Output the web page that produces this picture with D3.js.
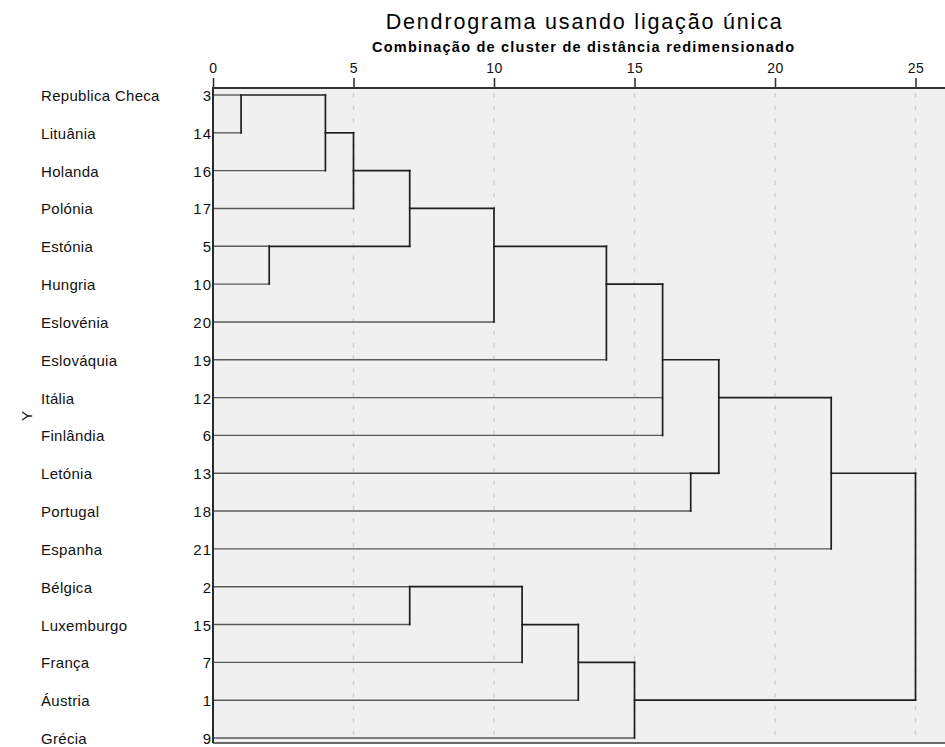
<!DOCTYPE html>
<html>
<head>
<meta charset="utf-8">
<script src="https://cdn.jsdelivr.net/npm/d3@7"></script>
<style>
  html, body { margin: 0; padding: 0; background: #ffffff; }
  svg { display: block; font-family: "Liberation Sans", Arial, sans-serif; }
</style>
</head>
<body>
<svg id="chart" width="945" height="747"></svg>
<script>
// ---- data ----
const countries = ["Republica Checa","Lituânia","Holanda","Polónia","Estónia","Hungria","Eslovénia","Eslováquia","Itália","Finlândia","Letónia","Portugal","Espanha","Bélgica","Luxemburgo","França","Áustria","Grécia"];
const caseNumbers = [3,14,16,17,5,10,20,19,12,6,13,18,21,2,15,7,1,9];
// merges: children are leaf row indices (numbers) or earlier merge ids ("m0", ...)
const mergeChildren = [
  [0, 1],            // m0
  ["m0", 2],         // m1
  ["m1", 3],         // m2
  [4, 5],            // m3
  ["m2", "m3"],      // m4
  ["m4", 6],         // m5
  ["m5", 7],         // m6
  ["m6", 8, 9],      // m7
  [10, 11],          // m8
  ["m7", "m8"],      // m9
  ["m9", 12],        // m10
  [13, 14],          // m11
  ["m11", 15],       // m12
  ["m12", 16],       // m13
  ["m13", 17],       // m14
  ["m10", "m14"]     // m15
];
const mergeHeights = [1, 4, 5, 2, 7, 10, 14, 16, 17, 18, 22, 7, 11, 13, 15, 25];
const tickValues = [0, 5, 10, 15, 20, 25];
const titleText = "Dendrograma usando ligação única";
const subtitleText = "Combinação de cluster de distância redimensionado";
const yAxisTitle = "Y";

// ---- layout ----
const svg = d3.select("#chart");
const plotLeft = 213, plotRight = 950, plotTop = 88, plotBottom = 743;
const x = d3.scaleLinear().domain([0, 25]).range([213, 915.5]);
const y = d3.scaleLinear().domain([0, countries.length - 1]).range([95, 738]);

// plot background
svg.append("rect")
  .attr("x", plotLeft).attr("y", plotTop)
  .attr("width", plotRight - plotLeft).attr("height", plotBottom - plotTop)
  .attr("fill", "#f0f0f0");

// dashed gridlines
svg.append("g").selectAll("line")
  .data(tickValues.filter(d => d > 0))
  .join("line")
  .attr("x1", d => x(d)).attr("x2", d => x(d))
  .attr("y1", plotTop + 5).attr("y2", plotBottom)
  .attr("stroke", "#cfcfcf").attr("stroke-width", 1.5)
  .attr("stroke-dasharray", "4.5,8");

// compute node positions (SPSS style: row = floor of midpoint of extreme children)
const nodes = {};
caseNumbers.forEach((c, i) => { nodes[i] = { row: i, h: 0, leaf: true }; });
const links = [];
mergeChildren.forEach((ch, k) => {
  const kids = ch.map(c => nodes[c]);
  const rows = kids.map(n => n.row);
  const lo = d3.min(rows), hi = d3.max(rows);
  const h = mergeHeights[k];
  nodes["m" + k] = { row: Math.floor((lo + hi) / 2), h: h, leaf: false };
  kids.forEach(n => links.push({ x1: n.h, x2: h, r1: n.row, r2: n.row, leaf: n.leaf }));
  links.push({ x1: h, x2: h, r1: lo, r2: hi, leaf: false });
});

const linkG = svg.append("g").attr("fill", "none");
linkG.selectAll("line")
  .data(links)
  .join("line")
  .attr("x1", d => x(d.x1)).attr("x2", d => x(d.x2))
  .attr("y1", d => y(d.r1)).attr("y2", d => y(d.r2))
  .attr("stroke", d => d.leaf ? "#5a5a5a" : "#1e1e1e")
  .attr("stroke-width", d => d.leaf ? 1.4 : 1.7)
  .attr("stroke-linecap", "square");

// borders
svg.append("line").attr("x1", plotLeft).attr("x2", plotLeft).attr("y1", plotTop).attr("y2", plotBottom)
  .attr("stroke", "#2a2a2a").attr("stroke-width", 2);
svg.append("line").attr("x1", plotLeft).attr("x2", plotRight).attr("y1", plotBottom).attr("y2", plotBottom)
  .attr("stroke", "#3a3a3a").attr("stroke-width", 1.5);
svg.append("line").attr("x1", plotLeft - 1).attr("x2", plotRight).attr("y1", plotTop).attr("y2", plotTop)
  .attr("stroke", "#333").attr("stroke-width", 1.8);

// top axis
const axis = d3.axisTop(x).tickValues(tickValues).tickSize(10).tickPadding(5).tickFormat(d3.format("d"));
const axG = svg.append("g").attr("transform", `translate(0,${plotTop})`).call(axis);
axG.select(".domain").remove();
axG.selectAll(".tick line").attr("stroke", "#333").attr("stroke-width", 1.6);
axG.selectAll(".tick text").attr("fill", "#111").style("font-size", "14px")
  .style("font-family", "'Liberation Sans', Arial, sans-serif").style("letter-spacing", "0.5px");

// row labels
svg.append("g").selectAll("text")
  .data(countries)
  .join("text")
  .attr("x", 41).attr("y", (d, i) => y(i) + 6)
  .attr("fill", "#111").style("font-size", "15px").style("letter-spacing", "0.3px")
  .text(d => d);
svg.append("g").selectAll("text")
  .data(caseNumbers)
  .join("text")
  .attr("x", 212).attr("y", (d, i) => y(i) + 6)
  .attr("text-anchor", "end")
  .attr("fill", "#111").style("font-size", "15px").style("letter-spacing", "1px")
  .text(d => d);

// titles
svg.append("text").attr("x", 583.7).attr("y", 29).attr("text-anchor", "middle")
  .attr("textLength", 396).attr("lengthAdjust", "spacing")
  .attr("fill", "#000").style("font-size", "21.5px").text(titleText);
svg.append("text").attr("x", 583).attr("y", 52).attr("text-anchor", "middle")
  .attr("textLength", 422).attr("lengthAdjust", "spacing")
  .attr("fill", "#000").style("font-size", "14.5px").style("font-weight", "bold").text(subtitleText);

// y axis title
svg.append("text").attr("transform", "translate(32,416) rotate(-90)")
  .attr("text-anchor", "middle").attr("fill", "#222").style("font-size", "15px").text(yAxisTitle);
</script>
</body>
</html>
